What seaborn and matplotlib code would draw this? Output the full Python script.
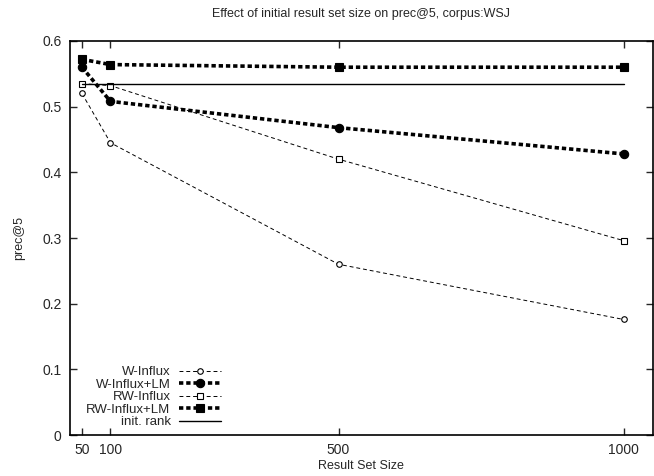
import matplotlib
matplotlib.use("Agg")
import matplotlib.pyplot as plt
import seaborn as sns
import pandas as pd

sizes = [50, 100, 500, 1000]
w_influx = [0.520, 0.445, 0.260, 0.176]
w_influx_lm = [0.560, 0.508, 0.468, 0.428]
rw_influx = [0.535, 0.532, 0.420, 0.296]
rw_influx_lm = [0.572, 0.564, 0.560, 0.560]
init_rank = [0.535, 0.535, 0.535, 0.535]

sns.set_style("ticks")
plt.rcParams['font.family'] = ['Liberation Sans', 'DejaVu Sans']
plt.rcParams['font.size'] = 10

fig = plt.figure(figsize=(6.54, 4.76), dpi=100)
ax = fig.add_axes([0.107, 0.086, 0.891, 0.828])

series = [
    ("W-Influx", w_influx, dict(marker="o", markersize=4, markerfacecolor="white",
                                linewidth=0.7, dashes=(4, 3))),
    ("W-Influx+LM", w_influx_lm, dict(marker="o", markersize=6, markerfacecolor="black",
                                      linewidth=2.6, dashes=(1.2, 0.8))),
    ("RW-Influx", rw_influx, dict(marker="s", markersize=4, markerfacecolor="white",
                                  linewidth=0.7, dashes=(4, 3))),
    ("RW-Influx+LM", rw_influx_lm, dict(marker="s", markersize=6, markerfacecolor="black",
                                        linewidth=2.6, dashes=(1.2, 0.8))),
    ("init. rank", init_rank, dict(marker=None, linewidth=1.0)),
]

for name, vals, kw in series:
    df = pd.DataFrame({"size": sizes, "prec": vals})
    sns.lineplot(data=df, x="size", y="prec", ax=ax, color="black",
                 markeredgecolor="black", markeredgewidth=0.8, label=name, **kw)

ax.set_xlim(29, 1051)
ax.set_ylim(0, 0.6)
ax.set_xticks(sizes)
ax.set_xticklabels([str(s) for s in sizes])
ax.set_yticks([0, 0.1, 0.2, 0.3, 0.4, 0.5, 0.6])
ax.set_yticklabels(["0", "0.1", "0.2", "0.3", "0.4", "0.5", "0.6"])
ax.tick_params(direction="in", top=True, right=True, length=5, width=1,
               labelsize=10, pad=6)
for sp in ax.spines.values():
    sp.set_linewidth(1.2)
    sp.set_color("black")

ax.set_title("Effect of initial result set size on prec@5, corpus:WSJ",
             fontsize=9, pad=17)
ax.set_xlabel("Result Set Size", fontsize=9, labelpad=2)
ax.set_ylabel("prec@5", fontsize=9, labelpad=12)

ax.legend(loc="lower left", bbox_to_anchor=(0.01, -0.01), frameon=False,
          markerfirst=False, fontsize=9.5, handlelength=3.2, labelspacing=0.02,
          handletextpad=0.6, borderaxespad=0.4)

fig.savefig("out.png", dpi=100)
